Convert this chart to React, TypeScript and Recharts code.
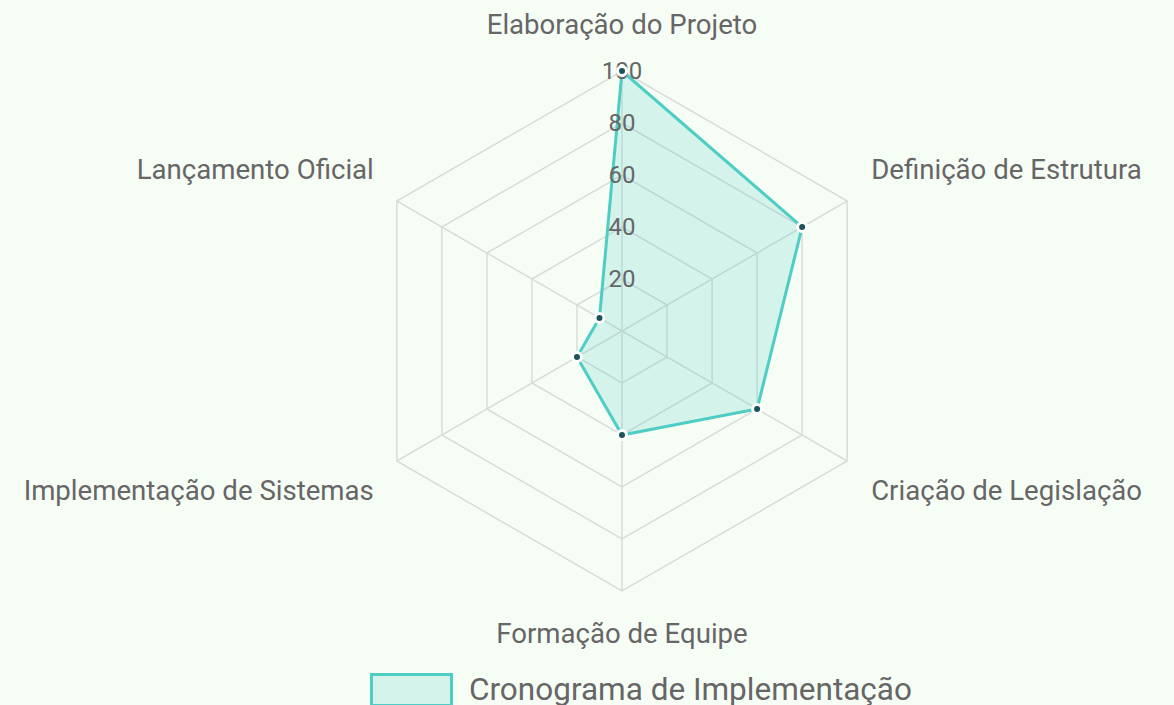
import React from 'react';
import {
  RadarChart,
  Radar,
  PolarGrid,
  PolarAngleAxis,
  PolarRadiusAxis,
  Legend,
} from 'recharts';

const categories = [
  'Elaboração do Projeto',
  'Definição de Estrutura',
  'Criação de Legislação',
  'Formação de Equipe',
  'Implementação de Sistemas',
  'Lançamento Oficial',
];
const progress = [100, 80, 60, 40, 20, 10];
const radiusTicks = [0, 20, 40, 60, 80, 100];
const seriesName = 'Cronograma de Implementação';

const data = categories.map((name, i) => ({ name, value: progress[i] }));

const W = 1174;
const H = 705;
const CX = 622;
const CY = 331;
const R = 260;
const FONT = 'Roboto, "Noto Sans", sans-serif';
const TEXT = '#666666';
const TEAL = '#4ecdc4';

function AngleTick(props: any) {
  const { payload } = props;
  const deg = payload.coordinate;
  const rad = (deg * Math.PI) / 180;
  const cos = Math.cos(rad);
  const sin = Math.sin(rad);
  const vx = CX + R * cos;
  const vy = CY - R * sin;
  let x = vx;
  let y = vy;
  let anchor: 'start' | 'middle' | 'end' = 'middle';
  if (Math.abs(cos) < 0.1) {
    y = sin > 0 ? vy - 47 : vy + 42;
  } else {
    anchor = cos > 0 ? 'start' : 'end';
    x = vx + (cos > 0 ? 24 : -23);
    y = vy + (sin > 0 ? -32 : 29);
  }
  return (
    <text
      x={x}
      y={y}
      textAnchor={anchor}
      dominantBaseline="central"
      fill={TEXT}
      fontSize={27.6}
      fontFamily={FONT}
    >
      {payload.value}
    </text>
  );
}

function RadiusTick(props: any) {
  const { x, y, payload } = props;
  if (payload.value === 0) return null;
  return (
    <text
      x={x}
      y={y}
      textAnchor="middle"
      dominantBaseline="central"
      fill={TEXT}
      fontSize={24}
      fontFamily={FONT}
    >
      {payload.value}
    </text>
  );
}

function LegendContent() {
  return (
    <div
      style={{
        display: 'flex',
        alignItems: 'center',
        paddingLeft: 370,
        fontFamily: FONT,
      }}
    >
      <span
        style={{
          display: 'inline-block',
          width: 83,
          height: 34,
          boxSizing: 'border-box',
          border: `3px solid ${TEAL}`,
          background: 'rgba(78, 205, 196, 0.2)',
          marginRight: 16,
          flexShrink: 0,
        }}
      />
      <span style={{ fontSize: 31.5, color: TEXT, whiteSpace: 'nowrap', lineHeight: 1.1 }}>
        {seriesName}
      </span>
    </div>
  );
}

export default function App() {
  return (
    <div style={{ width: W, height: H, background: '#f6fdf5', overflow: 'hidden' }}>
      <style>{'body{margin:0}'}</style>
      <RadarChart
        width={W}
        height={H}
        data={data}
        cx={CX}
        cy={CY}
        outerRadius={R}
        startAngle={90}
        endAngle={-270}
        margin={{ top: 0, right: 0, bottom: 0, left: 0 }}
      >
        <PolarGrid gridType="polygon" stroke="#dadcda" strokeWidth={1.5} />
        <PolarAngleAxis dataKey="name" tick={<AngleTick />} tickLine={false} />
        <PolarRadiusAxis
          angle={90}
          domain={[0, 100]}
          ticks={radiusTicks}
          tick={<RadiusTick />}
          axisLine={false}
          tickLine={false}
        />
        <Radar
          name={seriesName}
          dataKey="value"
          stroke={TEAL}
          strokeWidth={3}
          fill={TEAL}
          fillOpacity={0.2}
          dot={{ r: 4.5, fill: '#1a535c', stroke: '#ffffff', strokeWidth: 3, fillOpacity: 1 }}
          isAnimationActive={false}
        />
        <Legend
          content={<LegendContent />}
          wrapperStyle={{ left: 0, top: 673, width: W }}
        />
      </RadarChart>
    </div>
  );
}
